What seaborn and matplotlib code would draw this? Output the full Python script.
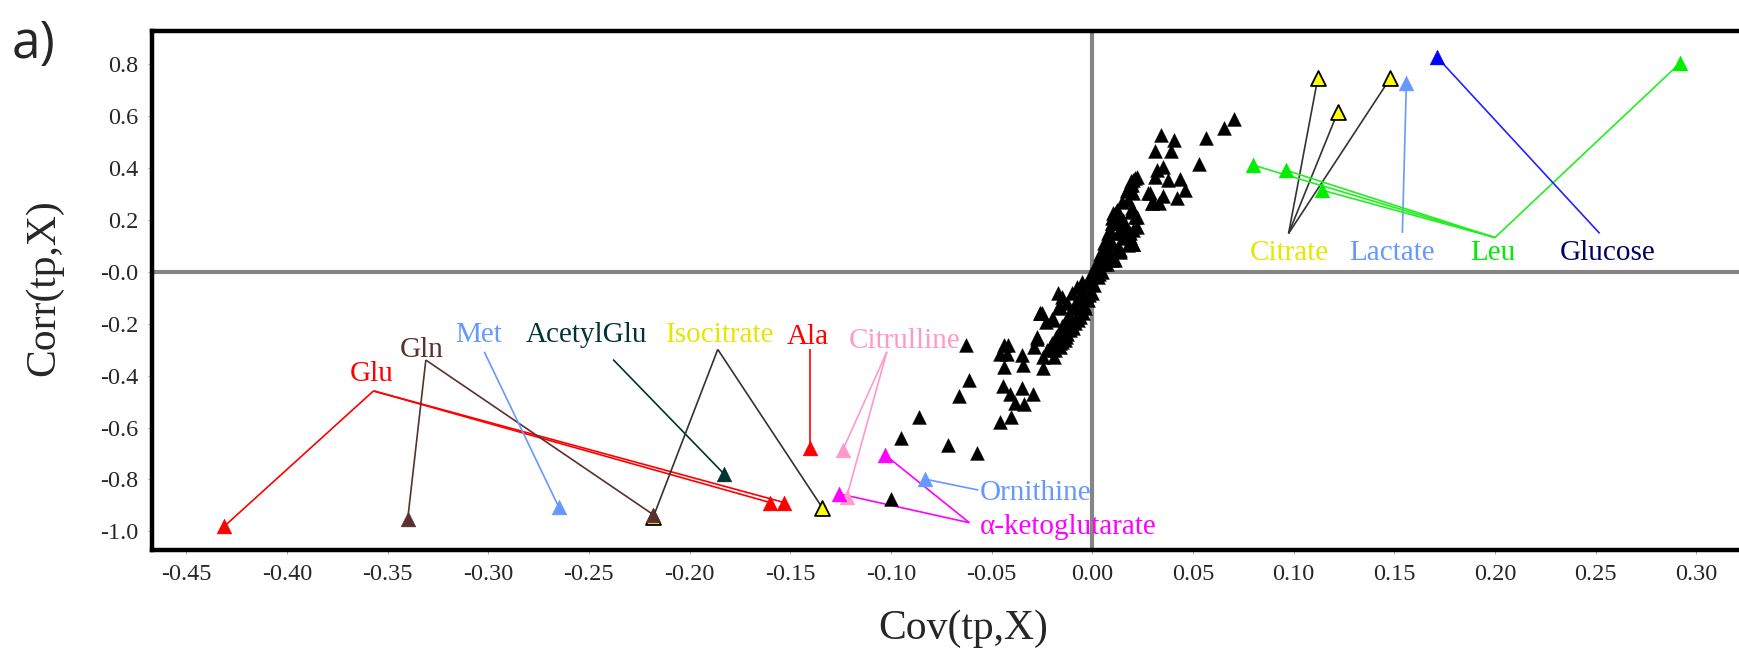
import numpy as np
import pandas as pd
import matplotlib
matplotlib.use("Agg")
import matplotlib.pyplot as plt
import seaborn as sns

# ---------------- data ----------------
# background variables (black triangles): Cov(tp,X), Corr(tp,X)
cloud_x = [-0.0627, -0.061, -0.066, -0.0859, -0.0951, -0.0715, -0.0571, -0.100,
           -0.0438, -0.0417, -0.0458, -0.0425, -0.0351, -0.0438, -0.0346, -0.0243,
           -0.0445, -0.0409, -0.0351, -0.0293, -0.0384, -0.0339, -0.0458, -0.0405,
           -0.0276, -0.0289, -0.026, -0.0231, -0.0194,
           -0.0226, -0.0202, -0.0168, -0.0145, -0.0112, -0.0087, -0.0063, -0.0039,
           -0.016, -0.0127, -0.0095, -0.007, -0.0046, -0.0185, -0.0135,
           -0.0136, -0.0111, -0.0086, -0.0061, -0.0045, -0.0025, -0.0008, 0.0013,
           0.003, 0.0047, 0.0063, 0.008, 0.0088, 0.0096, 0.0113, 0.0121, 0.0138,
           0.0162, 0.0187, 0.0204, 0.0088, 0.0113, 0.0072, 0.0047, 0.003,
           -0.0127, -0.0102, -0.0078, -0.0053, -0.016, -0.0111, -0.0086, -0.0061,
           -0.0036, -0.002, -0.0003,
           0.0171, 0.0187, 0.0204, 0.022, 0.0179, 0.0196, 0.0212, 0.022, 0.0104,
           0.0096, 0.0121, 0.0146, 0.0154, 0.0179, 0.0129, 0.0104,
           0.0204, 0.0138, 0.0295, 0.0187, 0.0154,
           0.0341, 0.0407, 0.0311, 0.0391, 0.0563, 0.0654, 0.0705, 0.053, 0.032,
           0.0353, 0.0311, 0.0377, 0.0435, 0.046, 0.0286, 0.0353, 0.0295, 0.0333,
           0.0419, 0.0212, 0.0196, 0.0204, 0.022, 0.0204, 0.0204, 0.0138, 0.0104,
           0.0129, 0.0096, 0.0154,
           -0.026, -0.0169, -0.0152, -0.0202, -0.0169,
           -0.0243, -0.021, -0.018, -0.015, -0.012, -0.009, -0.006, -0.003, -0.0005,
           0.002, 0.004, 0.006, 0.008, 0.010, 0.012, 0.015, 0.017, 0.019,
           -0.019, -0.016, -0.013, -0.010, -0.007, -0.004, -0.0015, 0.001, 0.0035,
           0.006, 0.008, 0.010, 0.013, 0.016, 0.019,
           -0.0251, -0.0201, -0.0276, -0.0152, 0.0278, 0.0303]
cloud_y = [-0.283, -0.417, -0.479, -0.561, -0.642, -0.668, -0.700, -0.877,
           -0.282, -0.282, -0.315, -0.315, -0.321, -0.366, -0.360, -0.372,
           -0.440, -0.469, -0.449, -0.469, -0.507, -0.510, -0.578, -0.561,
           -0.257, -0.289, -0.160, -0.193, -0.180,
           -0.302, -0.276, -0.250, -0.230, -0.205, -0.180, -0.154, -0.128,
           -0.276, -0.238, -0.218, -0.186, -0.160, -0.302, -0.263,
           -0.199, -0.173, -0.141, -0.109, -0.083, -0.051, -0.019, 0.013,
           0.039, 0.064, 0.096, 0.129, 0.161, 0.187, 0.218, 0.237, 0.193,
           0.173, 0.135, 0.107, 0.071, 0.045, 0.032, 0.000, -0.019,
           -0.122, -0.083, -0.058, -0.038, -0.135, -0.225, -0.199, -0.173,
           -0.141, -0.109, -0.083,
           0.315, 0.334, 0.353, 0.366, 0.276, 0.244, 0.212, 0.173, 0.225,
           0.206, 0.187, 0.161, 0.129, 0.103, 0.096, 0.058,
           0.109, 0.084, 0.264, 0.148, 0.199,
           0.527, 0.508, 0.465, 0.465, 0.514, 0.556, 0.587, 0.415, 0.392,
           0.402, 0.364, 0.353, 0.356, 0.317, 0.304, 0.292, 0.266, 0.266,
           0.283, 0.360, 0.334, 0.302, 0.212, 0.161, 0.107, 0.077, 0.212,
           0.231, 0.045, 0.148,
           -0.160, -0.083, -0.096, -0.186, -0.140,
           -0.33, -0.29, -0.25, -0.21, -0.17, -0.13, -0.09, -0.05, -0.01,
           0.03, 0.07, 0.11, 0.15, 0.19, 0.23, 0.27, 0.31, 0.35,
           -0.33, -0.29, -0.25, -0.21, -0.17, -0.13, -0.09, -0.05, -0.01,
           0.03, 0.07, 0.11, 0.15, 0.19, 0.23,
           -0.160, -0.180, -0.250, -0.270, 0.302, 0.270]

# labelled metabolites
met_names = ["Glu", "Gln", "Met", "AcetylGlu", "Isocitrate", "Ala", "Citrulline",
             "Ornithine", "α-ketoglutarate", "Citrate", "Lactate", "Leu", "Glucose"]
met_x = {
    "Glu": [-0.431, -0.160, -0.153],
    "Gln": [-0.340, -0.218],
    "Met": [-0.265],
    "AcetylGlu": [-0.183],
    "Isocitrate": [-0.218, -0.134],
    "Ala": [-0.140],
    "Citrulline": [-0.124, -0.122],
    "Ornithine": [-0.083],
    "α-ketoglutarate": [-0.103, -0.126],
    "Citrate": [0.112, 0.122, 0.148],
    "Lactate": [0.156],
    "Leu": [0.080, 0.096, 0.114, 0.292],
    "Glucose": [0.171],
}
met_y = {
    "Glu": [-0.980, -0.889, -0.889],
    "Gln": [-0.953, -0.936],
    "Met": [-0.906],
    "AcetylGlu": [-0.778],
    "Isocitrate": [-0.944, -0.910],
    "Ala": [-0.679],
    "Citrulline": [-0.688, -0.868],
    "Ornithine": [-0.799],
    "α-ketoglutarate": [-0.705, -0.855],
    "Citrate": [0.746, 0.617, 0.746],
    "Lactate": [0.726],
    "Leu": [0.411, 0.392, 0.315, 0.805],
    "Glucose": [0.829],
}

x_ticks = [-0.45, -0.40, -0.35, -0.30, -0.25, -0.20, -0.15, -0.10, -0.05,
           0.00, 0.05, 0.10, 0.15, 0.20, 0.25, 0.30]
x_ticklabels = ["-0.45", "-0.40", "-0.35", "-0.30", "-0.25", "-0.20", "-0.15",
                "-0.10", "-0.05", "0.00", "0.05", "0.10", "0.15", "0.20", "0.25", "0.30"]
y_ticks = [-1.0, -0.8, -0.6, -0.4, -0.2, 0.0, 0.2, 0.4, 0.6, 0.8]
y_ticklabels = ["-1.0", "-0.8", "-0.6", "-0.4", "-0.2", "-0.0", "0.2", "0.4", "0.6", "0.8"]

# ---------------- styles / annotation placement ----------------
marker_color = {"Glu": "#ff0000", "Gln": "#5a3030", "Met": "#6699ff", "AcetylGlu": "#003333",
                "Isocitrate": "#ffff00", "Ala": "#ff0000", "Citrulline": "#ff99cc",
                "Ornithine": "#6699ff", "α-ketoglutarate": "#ff00ff", "Citrate": "#ffff00",
                "Lactate": "#6699ff", "Leu": "#00ee00", "Glucose": "#0000ff"}
edge_color = {k: v for k, v in marker_color.items()}
edge_color["Isocitrate"] = "#000000"
edge_color["Citrate"] = "#000000"
line_color = dict(marker_color)
line_color["Isocitrate"] = "#333333"
line_color["Citrate"] = "#333333"
line_color["Glucose"] = "#2222ff"
line_color["Leu"] = "#22ee22"
text_color = dict(marker_color)
text_color["Isocitrate"] = "#e6e600"
text_color["Citrate"] = "#e6e600"
text_color["Glucose"] = "#000066"
text_color["Leu"] = "#00ee00"

anchor = {"Glu": (-0.357, -0.459), "Gln": (-0.331, -0.340), "Met": (-0.302, -0.308),
          "AcetylGlu": (-0.238, -0.338), "Isocitrate": (-0.186, -0.299),
          "Ala": (-0.140, -0.299), "Citrulline": (-0.102, -0.308),
          "Ornithine": (-0.0566, -0.841), "α-ketoglutarate": (-0.061, -0.967),
          "Citrate": (0.0975, 0.148), "Lactate": (0.154, 0.150),
          "Leu": (0.200, 0.132), "Glucose": (0.252, 0.148)}
text_pos = {"Glu": (-0.358, -0.393, "center"), "Gln": (-0.333, -0.300, "center"),
            "Met": (-0.305, -0.242, "center"), "AcetylGlu": (-0.251, -0.242, "center"),
            "Isocitrate": (-0.185, -0.242, "center"), "Ala": (-0.1415, -0.250, "center"),
            "Citrulline": (-0.093, -0.268, "center"),
            "Ornithine": (-0.0558, -0.852, "left"),
            "α-ketoglutarate": (-0.0558, -0.982, "left"),
            "Citrate": (0.098, 0.073, "center"), "Lactate": (0.149, 0.073, "center"),
            "Leu": (0.199, 0.073, "center"), "Glucose": (0.256, 0.073, "center")}

# ---------------- figure ----------------
sns.set_theme(style="white")
plt.rcParams["font.family"] = ["Liberation Serif", "DejaVu Serif"]

fig = plt.figure(figsize=(17.39, 6.49), dpi=100)
ax = fig.add_axes([152 / 1739, 1 - 550 / 649, 1 - 152 / 1739, (550 - 31) / 649])

ax.axhline(0, color="#858585", lw=3.0, zorder=1)
ax.axvline(0, color="#858585", lw=3.0, zorder=1)

cloud = pd.DataFrame({"x": cloud_x, "y": cloud_y})
sns.scatterplot(data=cloud, x="x", y="y", marker="^", s=100, color="black",
                edgecolor="black", linewidth=0.3, ax=ax, zorder=3, legend=False)

# connector lines
for name in met_names:
    ax0, ay0 = anchor[name]
    for px, py in zip(met_x[name], met_y[name]):
        ax.plot([ax0, px], [ay0, py], color=line_color[name], lw=1.2, zorder=2,
                solid_capstyle="butt")

# coloured triangles (draw isocitrate before Gln so Gln sits on top)
order = ["Isocitrate", "Citrate", "Glu", "Gln", "Met", "AcetylGlu", "Ala", "Citrulline",
         "Ornithine", "α-ketoglutarate", "Lactate", "Leu", "Glucose"]
for name in order:
    df = pd.DataFrame({"x": met_x[name], "y": met_y[name]})
    lw = 1.3 if edge_color[name] == "#000000" else 0.3
    sns.scatterplot(data=df, x="x", y="y", marker="^", s=115, color=marker_color[name],
                    edgecolor=edge_color[name], linewidth=lw, ax=ax, zorder=4, legend=False)

for name in met_names:
    tx, ty, ha = text_pos[name]
    ax.text(tx, ty, name, color=text_color[name], fontsize=21, ha=ha, va="center", zorder=5)

ax.set_xlim(-0.467, 0.3212)
ax.set_ylim(-1.072, 0.928)
ax.set_xticks(x_ticks)
ax.set_xticklabels(x_ticklabels)
ax.set_yticks(y_ticks)
ax.set_yticklabels(y_ticklabels)
ax.tick_params(axis="both", labelsize=17.5, length=3, width=0.6, color="#999999",
               pad=7, direction="out", bottom=True, left=True)

for side in ["left", "bottom", "top"]:
    ax.spines[side].set_color("black")
    ax.spines[side].set_linewidth(3.2)
ax.spines["right"].set_visible(False)

ax.set_xlabel("Cov(tp,X)", fontsize=30)
ax.set_ylabel("Corr(tp,X)", fontsize=30)
ax.xaxis.set_label_coords(0.511, -0.115)
ax.yaxis.set_label_coords(-0.056, 0.505)

fig.text(34 / 1739, 1 - 44 / 649, "a)", fontsize=37, family="Open Sans",
         ha="center", va="center")

fig.savefig("out.png", dpi=100)
